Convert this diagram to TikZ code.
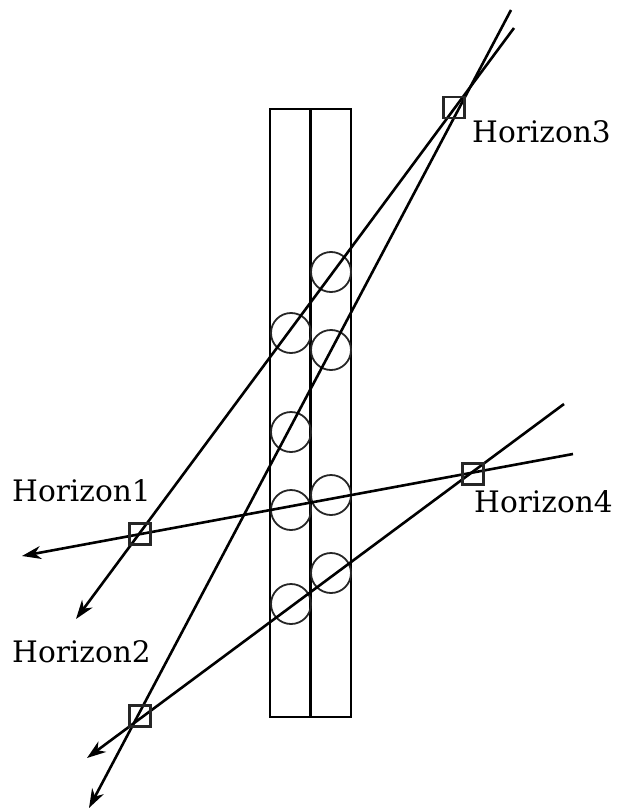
\documentclass[tikz,border=0pt]{standalone}
\usepackage{fontspec}
\setmainfont{DejaVu Serif}
\usetikzlibrary{arrows.meta}
\begin{document}
\begin{tikzpicture}[x=1bp,y=-1bp,
  ray/.style={line width=2.6bp,black},
  arr/.style={ray,-{Stealth[length=19bp,width=13bp,inset=6bp]}},
  col/.style={draw,line width=2.8bp,black,rectangle,minimum width=40.5bp,minimum height=608bp,inner sep=0pt},
  ball/.style={draw,circle,line width=1.8bp,black!85,minimum size=40bp,inner sep=0pt},
  hsq/.style={draw,rectangle,line width=2.6bp,black!85,minimum size=21bp,inner sep=0pt},
  lbl/.style={anchor=base west,inner sep=0pt,font=\fontsize{29.6bp}{35bp}\selectfont}]
\useasboundingbox (0,0) rectangle (618,810);
% columns
\node[col] (colL) at (290.25,413) {};
\node[col] (colR) at (330.75,413) {};
% circles
\node[ball] (cL1) at (291,333) {};
\node[ball] (cL2) at (291,432) {};
\node[ball] (cL3) at (291,510) {};
\node[ball] (cL4) at (291,604) {};
\node[ball] (cR1) at (331,272) {};
\node[ball] (cR2) at (331,350) {};
\node[ball] (cR3) at (331,495) {};
\node[ball] (cR4) at (331,573) {};
% line end points
\coordinate (a1) at (514,28);
\coordinate (b1) at (76,619);
\coordinate (a2) at (511,10);
\coordinate (b2) at (89,808);
\coordinate (a3) at (573,454);
\coordinate (b3) at (22,556);
\coordinate (a4) at (564,404);
\coordinate (b4) at (87,758);
% rays
\draw[arr] (a1) -- (b1);
\draw[arr] (a2) -- (b2);
\draw[arr] (a3) -- (b3);
\draw[arr] (a4) -- (b4);
% horizon squares
\node[hsq] (h1) at (140,534) {};
\node[hsq] (h2) at (140,716) {};
\node[hsq] (h3) at (454,107.5) {};
\node[hsq] (h4) at (473,474) {};
% labels
\node[lbl] (t1) at (12,501) {Horizon1};
\node[lbl] (t2) at (12,662) {Horizon2};
\node[lbl] (t3) at (472,142) {Horizon3};
\node[lbl] (t4) at (474,512) {Horizon4};
\end{tikzpicture}
\end{document}
